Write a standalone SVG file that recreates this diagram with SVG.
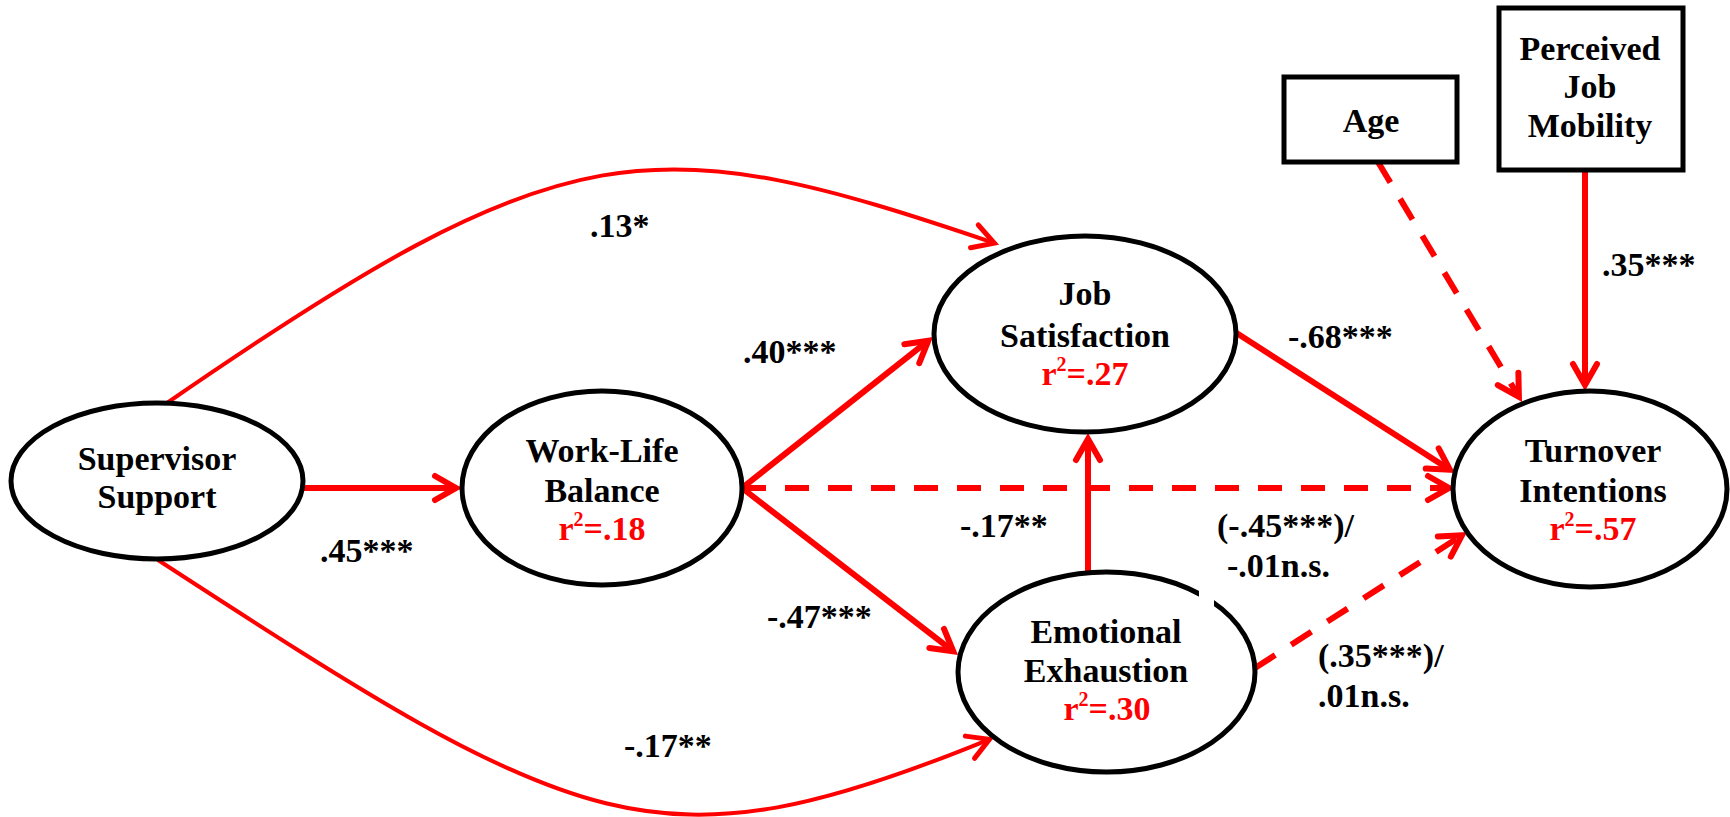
<svg xmlns="http://www.w3.org/2000/svg" width="1730" height="817" viewBox="0 0 1730 817">
<style>
.node{fill:#fff;stroke:#000;stroke-width:5}
.box{fill:#fff;stroke:#000;stroke-width:5}
.t{font-family:"Liberation Serif","Times New Roman",serif;font-weight:bold;font-size:34px;fill:#000}
.c{text-anchor:middle}
.r{fill:#f00}
.ln{fill:none;stroke:#f00;stroke-width:6;marker-end:url(#ah)}
.dash{stroke-dasharray:24 19}
.cv{fill:none;stroke:#f00;stroke-width:4;marker-end:url(#ah2)}
</style>
<defs>
<marker id="ah" markerUnits="userSpaceOnUse" viewBox="-34 -18 44 36" refX="0" refY="0" markerWidth="44" markerHeight="36" orient="auto">
<path d="M-21,-12 L0,0 L-21,12" fill="none" stroke="#f00" stroke-width="6" stroke-linecap="round" stroke-linejoin="miter"/>
</marker>
<marker id="ah2" markerUnits="userSpaceOnUse" viewBox="-34 -18 44 36" refX="0" refY="0" markerWidth="44" markerHeight="36" orient="auto">
<path d="M-21,-12 L0,0 L-21,12" fill="none" stroke="#f00" stroke-width="5" stroke-linecap="round" stroke-linejoin="miter"/>
</marker>
</defs>
<rect width="1730" height="817" fill="#fff"/>

<g id="connectors">
<path class="cv" d="M167,403 C567,127 650,126 994.3,243.1"/>
<path class="cv" d="M158,560 C578,833 655,876 989.4,739.3"/>
<path class="ln" d="M303,488 L456,488"/>
<path class="ln" d="M742,488 L928.3,340.7"/>
<path class="ln" d="M742,488 L953.3,651.3"/>
<path class="ln dash" d="M742,488 L1449,488"/>
<path class="ln" d="M1088,572 L1088,439"/>
<path class="ln" d="M1235,332 L1449.9,469.8"/>
<path class="ln dash" d="M1255,668 L1462,535.2"/>
<path class="ln dash" d="M1378,162 L1518.9,396.9"/>
<path class="ln" d="M1585,170 L1585,385"/>
</g>

<g id="supervisor-support">
<ellipse class="node" cx="157" cy="481" rx="146" ry="78"/>
<text class="t c" x="157" y="470">Supervisor</text>
<text class="t c" x="157" y="508">Support</text>
</g>

<g id="work-life-balance">
<ellipse class="node" cx="602" cy="488" rx="140" ry="97"/>
<text class="t c" x="602" y="462">Work-Life</text>
<text class="t c" x="602" y="502">Balance</text>
<text class="t c r" x="602" y="540">r<tspan font-size="20" dy="-14">2</tspan><tspan dy="14">=.18</tspan></text>
</g>

<g id="job-satisfaction">
<ellipse class="node" cx="1085" cy="334" rx="151" ry="98"/>
<text class="t c" x="1085" y="305">Job</text>
<text class="t c" x="1085" y="347">Satisfaction</text>
<text class="t c r" x="1085" y="385">r<tspan font-size="20" dy="-14">2</tspan><tspan dy="14">=.27</tspan></text>
</g>

<g id="emotional-exhaustion">
<ellipse class="node" cx="1106.5" cy="672" rx="148.5" ry="100"/>
<rect x="1199" y="588" width="15" height="20" fill="#fff"/>
<text class="t c" x="1106" y="643">Emotional</text>
<text class="t c" x="1106" y="682">Exhaustion</text>
<text class="t c r" x="1107" y="720">r<tspan font-size="20" dy="-14">2</tspan><tspan dy="14">=.30</tspan></text>
</g>

<g id="turnover-intentions">
<ellipse class="node" cx="1590" cy="489" rx="137" ry="98"/>
<text class="t c" x="1593" y="462">Turnover</text>
<text class="t c" x="1593" y="502">Intentions</text>
<text class="t c r" x="1593" y="540">r<tspan font-size="20" dy="-14">2</tspan><tspan dy="14">=.57</tspan></text>
</g>

<g id="age">
<rect class="box" x="1284" y="77" width="173" height="85"/>
<text class="t c" x="1371" y="132">Age</text>
</g>

<g id="perceived-job-mobility">
<rect class="box" x="1499" y="8" width="184" height="162"/>
<text class="t c" x="1590" y="60">Perceived</text>
<text class="t c" x="1590" y="98">Job</text>
<text class="t c" x="1590" y="137">Mobility</text>
</g>

<g id="labels">
<text class="t" x="590" y="237">.13*</text>
<text class="t" x="743" y="363">.40***</text>
<text class="t" x="320" y="562">.45***</text>
<text class="t" x="960" y="537">-.17**</text>
<text class="t" x="767" y="628">-.47***</text>
<text class="t" x="624" y="757">-.17**</text>
<text class="t" x="1288" y="348">-.68***</text>
<text class="t" x="1602" y="276">.35***</text>
<text class="t" x="1217" y="537">(-.45***)/</text>
<text class="t" x="1227" y="577">-.01n.s.</text>
<text class="t" x="1318" y="667">(.35***)/</text>
<text class="t" x="1318" y="707">.01n.s.</text>
</g>
</svg>
